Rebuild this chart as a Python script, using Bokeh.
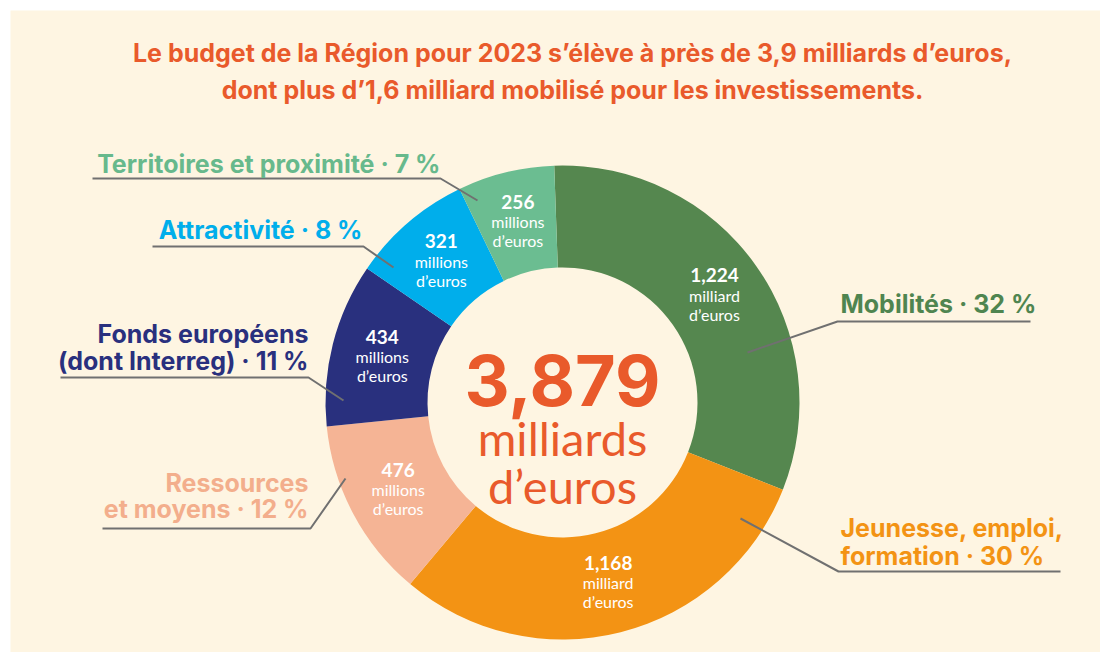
import math
from bokeh.plotting import figure
from bokeh.models import ColumnDataSource, Range1d
from bokeh.embed import file_html
from bokeh.resources import INLINE
from bokeh.core.properties import value

# ---------------- data ----------------
categories = ["Mobilités", "Jeunesse, emploi, formation", "Ressources et moyens",
              "Fonds européens (dont Interreg)", "Attractivité", "Territoires et proximité"]
amounts = [1224, 1168, 476, 434, 321, 256]          # millions d'euros
percents = [32, 30, 12, 11, 8, 7]
amount_labels = ["1,224", "1,168", "476", "434", "321", "256"]
unit_labels = ["milliard", "milliard", "millions", "millions", "millions", "millions"]
label_lines = [["Mobilités"], ["Jeunesse, emploi,", "formation"], ["Ressources", "et moyens"],
               ["Fonds européens", "(dont Interreg)"], ["Attractivité"], ["Territoires et proximité"]]
total_label = "3,879"
title_lines = ["Le budget de la Région pour 2023 s’élève à près de 3,9 milliards d’euros,",
               "dont plus d’1,6 milliard mobilisé pour les investissements."]

# ---------------- styles / layout ----------------
slice_colors = ["#55874F", "#F39314", "#F5B495", "#29307E", "#00AEEB", "#6BBD91"]
text_colors = ["#4F8550", "#F39314", "#F3AE8C", "#29307E", "#00AEEB", "#67B98C"]
accent = "#E95A2B"
cream = "#FEF5E2"
line_col = "#707070"
FONT = "Inter"
FONT2 = "Lato"

W, H = 1100, 652
def Y(y):
    return H - y

cx, cy = 562, 402
r_in, r_out = 135, 237
rot = math.radians(2)

label_pos = [  # (x, baselines, align)
    (840, [303], "left"),
    (840, [527, 555], "left"),
    (308, [482, 508], "right"),
    (308, [333, 360], "right"),
    (362, [229], "right"),
    (440, [163], "right"),
]
leaders = [
    [(1030, 321), (837, 321), (747, 352)],
    [(1060, 571), (838, 571), (740, 518)],
    [(102, 528), (310, 528), (345, 478)],
    [(60, 377), (308, 377), (343, 400)],
    [(152, 246), (363, 246), (393, 267)],
    [(92, 178), (440, 178), (477, 200)],
]

p = figure(width=W, height=H, x_range=Range1d(0, W), y_range=Range1d(0, H),
           output_backend="svg", toolbar_location=None, min_border=0)
p.axis.visible = False
p.grid.visible = False
p.outline_line_color = None
p.background_fill_color = "white"
p.border_fill_color = "white"

# cream panel
p.quad(left=[10], right=[W], top=[Y(10)], bottom=[0], color=cream, line_color=None)

# ---------------- donut ----------------
total = sum(amounts)
starts, ends, mids = [], [], []
cum = 0
for a in amounts:
    c0 = cum / total
    cum += a
    c1 = cum / total
    starts.append(math.pi / 2 + rot - 2 * math.pi * c1)
    ends.append(math.pi / 2 + rot - 2 * math.pi * c0)
    mids.append(math.pi / 2 + rot - 2 * math.pi * (c0 + c1) / 2)

src = ColumnDataSource(dict(x=[cx] * 6, y=[Y(cy)] * 6, s=starts, e=ends, c=slice_colors))
p.annular_wedge(x="x", y="y", inner_radius=r_in, outer_radius=r_out, start_angle="s",
                end_angle="e", color="c", line_color=None, source=src)

# slice values
r_mid = (r_in + r_out) / 2
for i in range(6):
    mx = cx + r_mid * math.cos(mids[i])
    my = Y(cy) + r_mid * math.sin(mids[i])
    rows = [(amount_labels[i], "bold", "19px", 20), (unit_labels[i], "normal", "16px", 0),
            ("d’euros", "normal", "16px", -19)]
    for txt, fw, fs, dy in rows:
        p.text(x=[mx], y=[my + dy], text=[txt], text_color="white", text_font=value(FONT2),
               text_font_style=fw, text_font_size=fs, text_align="center",
               text_baseline="middle")

# leader lines
p.multi_line(xs=[[pt[0] for pt in l] for l in leaders],
             ys=[[Y(pt[1]) for pt in l] for l in leaders],
             line_color=line_col, line_width=2)

# category labels
for i in range(6):
    x0, bases, al = label_pos[i]
    lines = list(label_lines[i])
    lines[-1] = lines[-1] + f" · {percents[i]} %"
    for txt, b in zip(lines, bases):
        p.text(x=[x0], y=[Y(b)], text=[txt], text_color=text_colors[i], text_font=value(FONT),
               text_font_style="bold", text_font_size="25px", text_align=al,
               text_baseline="alphabetic")

# center text
p.text(x=[cx], y=[Y(380)], text=[total_label], text_color=accent, text_font=value(FONT),
       text_font_style="bold", text_font_size="70px", text_align="center", text_baseline="alphabetic")
p.text(x=[cx], y=[Y(437)], text=["milliards"], text_color=accent, text_font=value(FONT2),
       text_font_size="47px", text_align="center", text_baseline="alphabetic")
p.text(x=[cx], y=[Y(485)], text=["d’euros"], text_color=accent, text_font=value(FONT2),
       text_font_size="47px", text_align="center", text_baseline="alphabetic")

# title
for txt, b in zip(title_lines, [52, 89]):
    p.text(x=[572], y=[Y(b)], text=[txt], text_color=accent, text_font=value(FONT),
           text_font_style="bold", text_font_size="25px", text_align="center",
           text_baseline="alphabetic")

open("out.html", "w").write(file_html(p, INLINE))
